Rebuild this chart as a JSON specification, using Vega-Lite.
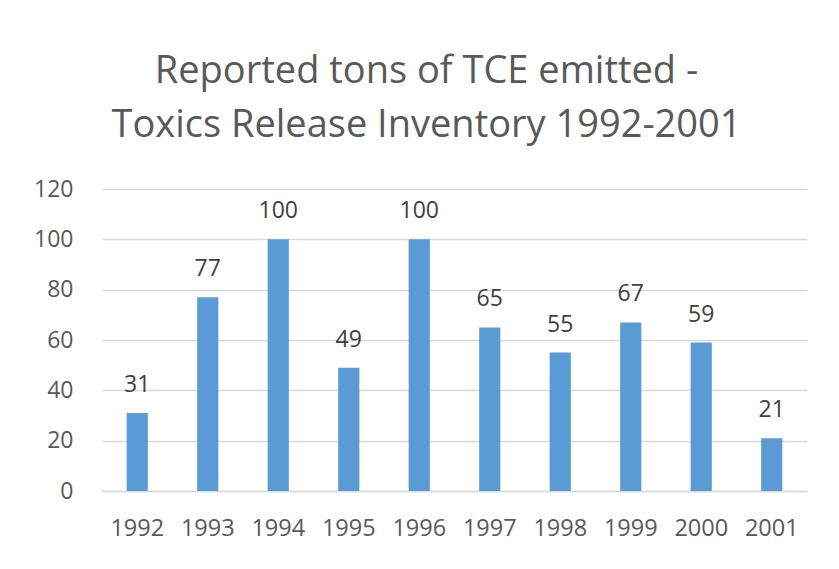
{
  "$schema": "https://vega.github.io/schema/vega-lite/v6.json",
  "autosize": {"type": "none"},
  "width": 705,
  "height": 302,
  "padding": {"left": 102, "top": 189, "right": 32, "bottom": 78},
  "background": "white",
  "title": {
    "text": ["Reported tons of TCE emitted -", "Toxics Release Inventory 1992-2001"],
    "font": "Open Sans",
    "fontSize": 38,
    "fontWeight": "normal",
    "color": "#595959",
    "lineHeight": 54,
    "anchor": "middle",
    "dx": -28,
    "offset": 33
  },
  "data": {
    "values": [
      {"year": "1992", "tons": 31},
      {"year": "1993", "tons": 77},
      {"year": "1994", "tons": 100},
      {"year": "1995", "tons": 49},
      {"year": "1996", "tons": 100},
      {"year": "1997", "tons": 65},
      {"year": "1998", "tons": 55},
      {"year": "1999", "tons": 67},
      {"year": "2000", "tons": 59},
      {"year": "2001", "tons": 21}
    ]
  },
  "encoding": {
    "x": {
      "field": "year",
      "type": "nominal",
      "scale": {"paddingInner": 0.7, "paddingOuter": 0.35},
      "axis": {
        "title": null,
        "labelAngle": 0,
        "labelFont": "Open Sans",
        "labelFontSize": 23.5,
        "labelColor": "#595959",
        "labelPadding": 25,
        "ticks": false,
        "domainColor": "#d9d9d9",
        "domainWidth": 1.5
      }
    },
    "y": {
      "field": "tons",
      "type": "quantitative",
      "scale": {"domain": [0, 120]},
      "axis": {
        "title": null,
        "values": [0, 20, 40, 60, 80, 100, 120],
        "labelFont": "Open Sans",
        "labelFontSize": 23,
        "labelColor": "#595959",
        "labelPadding": 29,
        "ticks": false,
        "domain": false,
        "gridColor": "#d9d9d9",
        "gridWidth": 1.5
      }
    }
  },
  "layer": [
    {"mark": {"type": "bar", "color": "#5B9BD5"}},
    {
      "mark": {
        "type": "text",
        "font": "Open Sans",
        "fontSize": 23,
        "color": "#404040",
        "baseline": "alphabetic",
        "dy": -21
      },
      "encoding": {"text": {"field": "tons", "type": "quantitative"}}
    }
  ],
  "config": {"view": {"stroke": null}}
}
